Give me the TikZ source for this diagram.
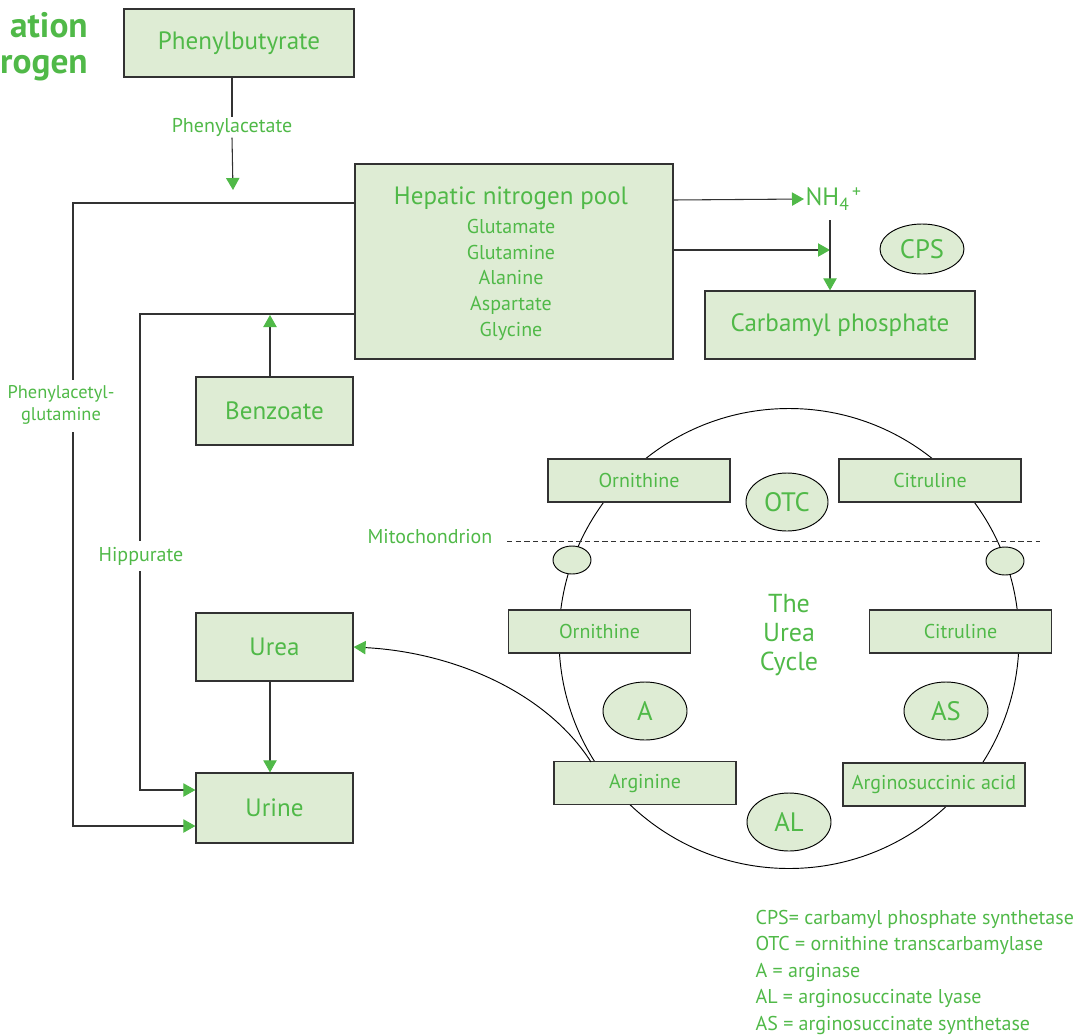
\documentclass[tikz,border=0pt]{standalone}
\usepackage{fontspec}
\setmainfont{PT Sans}
\usetikzlibrary{arrows.meta,shapes.geometric}
\definecolor{grn}{RGB}{80,185,72}
\definecolor{boxfill}{RGB}{222,236,212}
\definecolor{edge}{RGB}{50,50,50}
\tikzset{
  box/.style={draw=edge,line width=0.9pt,fill=boxfill,text=grn,inner sep=0pt},
  ell/.style={ellipse,draw=black,line width=0.7pt,fill=boxfill,text=grn,inner sep=0pt},
  lbl/.style={text=grn,inner sep=1pt},
  conn/.style={draw=edge,line width=0.8pt},
  arr/.style={conn,-{Triangle[length=9pt,width=10pt,fill=grn,color=grn]}},
  big/.style={font=\fontsize{18.8}{22}\selectfont},
  enz/.style={font=\fontsize{20}{23}\selectfont},
  sml/.style={font=\fontsize{15}{18}\selectfont},
}
\begin{document}
\begin{tikzpicture}[x=0.75pt,y=-0.75pt]
\useasboundingbox (0,0) rectangle (1079,1036);
% title fragments
\node[lbl,anchor=north east,align=right,inner sep=0pt,font=\fontsize{26.5}{27}\bfseries\selectfont] (title) at (88,12) {ation\\rogen};
% big circle
\node[circle,draw=black,line width=0.7pt,minimum size=345pt,inner sep=0pt] (cyc) at (789,638.5) {};
% boxes
\node[box,big,minimum width=172.5pt,minimum height=51pt] (phb) at (239,43) {Phenylbutyrate};
\node[box,minimum width=238.5pt,minimum height=146.25pt] (hep) at (514,261.5) {};
\node[lbl,big] (hept) at (511,198) {Hepatic nitrogen pool};
\node[lbl,sml] (g1) at (511,226) {Glutamate};
\node[lbl,sml] (g2) at (511,252) {Glutamine};
\node[lbl,sml] (g3) at (511,278) {Alanine};
\node[lbl,sml] (g4) at (511,305) {Aspartate};
\node[lbl,sml] (g5) at (511,331) {Glycine};
\node[box,big,minimum width=202.5pt,minimum height=51pt] (carb) at (840,325) {Carbamyl phosphate};
\node[box,big,minimum width=117.75pt,minimum height=51pt] (benz) at (274.5,411) {Benzoate};
\node[box,big,minimum width=117.75pt,minimum height=51pt] (urea) at (274.5,647) {Urea};
\node[box,big,minimum width=117.75pt,minimum height=52.5pt] (urine) at (274.5,808) {Urine};
\node[lbl,big,anchor=west] (nh4) at (804,199) {NH\textsubscript{4}\kern2pt\textsuperscript{+}};
\node[ell,enz,minimum width=63pt,minimum height=37.5pt] (cps) at (922,249) {CPS};
% labels on connectors
\node[lbl,sml] (pa) at (232,127) {Phenylacetate};
\node[lbl,align=center,font=\fontsize{13.8}{17}\selectfont] (pag) at (61,405) {Phenylacetyl-\\glutamine};
\node[lbl,sml] (hip) at (141,556) {Hippurate};
\node[lbl,sml] (mito) at (430,537) {Mitochondrion};
% cycle boxes
\node[box,sml,minimum width=136.5pt,minimum height=32.25pt] (orn1) at (639,480.5) {Ornithine};
\node[box,sml,minimum width=136.5pt,minimum height=32.25pt] (cit1) at (930,480.5) {Citruline};
\node[box,sml,minimum width=136.5pt,minimum height=32.25pt] (orn2) at (599.5,631.5) {Ornithine};
\node[box,sml,minimum width=136.5pt,minimum height=32.25pt] (cit2) at (960.5,631.5) {Citruline};
\node[box,sml,minimum width=136.5pt,minimum height=32.25pt] (arg) at (645,783) {Arginine};
\node[box,sml,minimum width=136.5pt,minimum height=32.25pt] (asa) at (934,784.5) {Arginosuccinic acid};
% enzymes
\node[ell,enz,minimum width=61.5pt,minimum height=43.5pt] (otc) at (787,502) {OTC};
\node[ell,enz,minimum width=63pt,minimum height=43.5pt] (ea) at (645,711) {A};
\node[ell,enz,minimum width=63pt,minimum height=43.5pt] (eas) at (946,711) {AS};
\node[ell,enz,minimum width=63pt,minimum height=43.5pt] (eal) at (789,822) {AL};
\node[ell,minimum width=28.5pt,minimum height=21pt] (s1) at (572,560) {};
\node[ell,minimum width=28.5pt,minimum height=21pt] (s2) at (1005,561) {};
\node[lbl,align=center,font=\fontsize{19.5}{22}\selectfont] (uc) at (789,635) {The\\Urea\\Cycle};
% dashed mitochondrion line
\coordinate (d1) at (507,541);
\coordinate (d2) at (1040,541);
\draw[conn,dashed,dash pattern=on 4pt off 2.5pt,line width=0.7pt] (d1) -- (d2);
% connectors
\coordinate (pin) at (233,190);
\draw[conn] (phb.south -| pa.north) -- ([yshift=-0.75pt]pa.north);
\draw[arr] (pa.south) -- (pin);
\coordinate (h1) at (673,200);
\coordinate (h2) at (673,250);
\coordinate (nh4in) at (830,250);
\draw[arr] (h1) -- (nh4.west);
\draw[arr] (h2) -- (nh4in);
\coordinate (nh4b) at (830,220);
\draw[arr] (nh4b) -- (carb.north -| nh4b);
% phenylacetylglutamine route
\coordinate (l1) at (73,380);
\coordinate (l2) at (73,432);
\draw[conn] (hep.west |- 0,203) -| (l1);
\draw[arr] (l2) |- (urine.west |- 0,826);
% hippurate route
\coordinate (k1) at (140,541);
\coordinate (k2) at (140,571);
\draw[conn] (hep.west |- 0,314) -| (k1);
\draw[arr] (k2) |- (urine.west |- 0,790);
% benzoate up
\coordinate (bz) at (270,315);
\draw[arr] (benz.north -| bz) -- (bz);
% urea to urine
\draw[arr] (urea.south -| 270,0) -- (urine.north -| 270,0);
% arginine to urea
\coordinate (ag) at (591,762);
\draw[arr,line width=0.7pt,draw=black] (ag) .. controls (545,690) and (450,652) .. (urea.east);
% legend
\node[lbl,sml,anchor=west] (lg1) at (754,919) {CPS= carbamyl phosphate synthetase};
\node[lbl,sml,anchor=west] (lg2) at (754,945) {OTC = ornithine transcarbamylase};
\node[lbl,sml,anchor=west] (lg3) at (754,972) {A = arginase};
\node[lbl,sml,anchor=west] (lg4) at (754,998) {AL = arginosuccinate lyase};
\node[lbl,sml,anchor=west] (lg5) at (754,1025) {AS = arginosuccinate synthetase};
\end{tikzpicture}
\end{document}
